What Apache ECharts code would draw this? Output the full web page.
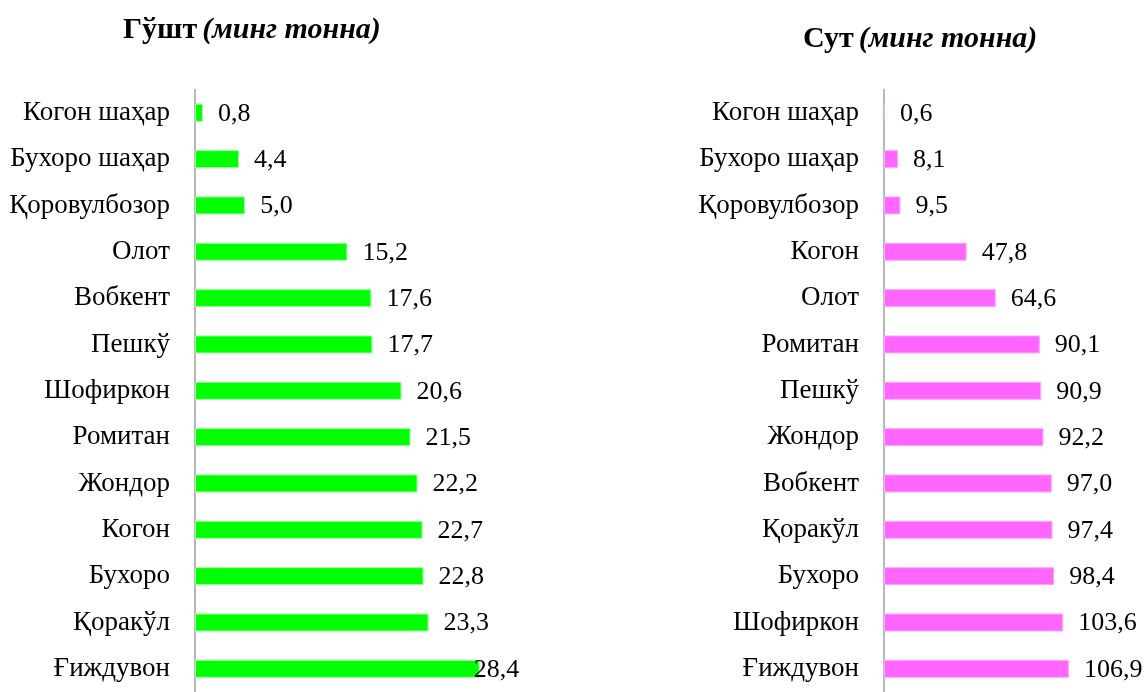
<!DOCTYPE html>
<html>
<head>
<meta charset="utf-8">
<script src="https://cdn.jsdelivr.net/npm/echarts@6/dist/echarts.min.js"></script>
<style>
html, body { margin: 0; padding: 0; background: #fff; }
#main { width: 1147px; height: 692px; }
</style>
</head>
<body>
<div id="main"></div>
<script>
// Гўшт (минг тонна)
var meatRegions = ['Когон шаҳар', 'Бухоро шаҳар', 'Қоровулбозор', 'Олот', 'Вобкент', 'Пешкў', 'Шофиркон', 'Ромитан', 'Жондор', 'Когон', 'Бухоро', 'Қоракўл', 'Ғиждувон'];
var meatValues = [0.8, 4.4, 5.0, 15.2, 17.6, 17.7, 20.6, 21.5, 22.2, 22.7, 22.8, 23.3, 28.4];
// Сут (минг тонна)
var milkRegions = ['Когон шаҳар', 'Бухоро шаҳар', 'Қоровулбозор', 'Когон', 'Олот', 'Ромитан', 'Пешкў', 'Жондор', 'Вобкент', 'Қоракўл', 'Бухоро', 'Шофиркон', 'Ғиждувон'];
var milkValues = [0.6, 8.1, 9.5, 47.8, 64.6, 90.1, 90.9, 92.2, 97.0, 97.4, 98.4, 103.6, 106.9];

var font = "'Liberation Serif', 'Times New Roman', serif";
var chart = echarts.init(document.getElementById('main'));

function fmt(p) {
	return p.value.toFixed(1).replace('.', ',');
}

var titleRich = {
	b : { fontFamily : font, fontSize : 30, fontWeight : 'bold', color : '#000' },
	i : { fontFamily : font, fontSize : 30, fontStyle : 'italic', color : '#000' }
};

// последний столбик мяса - подпись налезает на конец столбика
var meatData = meatValues.map(function(v, i) {
	if (i == meatValues.length - 1) {
		return { value : v, label : { offset : [ -21, 1 ] } };
	}
	return v;
});

var option = {
	animation : false,
	title : [ {
		text : '{b|Гўшт} {i|(минг тонна)}',
		left : 118,
		top : 10,
		textStyle : { rich : titleRich }
	}, {
		text : '{b|Сут} {i|(минг тонна)}',
		left : 798,
		top : 19,
		textStyle : { rich : titleRich }
	} ],
	grid : [ {
		left : 195,
		top : 89.6,
		width : 401,
		height : 608.8
	}, {
		left : 884,
		top : 89.6,
		width : 259.5,
		height : 608.8
	} ],
	xAxis : [ {
		gridIndex : 0,
		type : 'value',
		min : 0,
		max : 40,
		show : false
	}, {
		gridIndex : 1,
		type : 'value',
		min : 0,
		max : 150,
		show : false
	} ],
	yAxis : [ {
		gridIndex : 0,
		type : 'category',
		inverse : true,
		data : meatRegions,
		axisLine : { lineStyle : { color : '#a0a0a0', width : 1.5 } },
		axisTick : { show : false },
		axisLabel : { margin : 25, color : '#000', fontFamily : font, fontSize : 27 }
	}, {
		gridIndex : 1,
		type : 'category',
		inverse : true,
		data : milkRegions,
		axisLine : { lineStyle : { color : '#a0a0a0', width : 1.5 } },
		axisTick : { show : false },
		axisLabel : { margin : 25, color : '#000', fontFamily : font, fontSize : 27 }
	} ],
	series : [ {
		type : 'bar',
		xAxisIndex : 0,
		yAxisIndex : 0,
		data : meatData,
		barWidth : 18,
		itemStyle : { color : '#00ff00', borderColor : '#9dff9d', borderWidth : 1 },
		label : {
			show : true,
			position : 'right',
			distance : 15,
			formatter : fmt,
			color : '#000',
			fontFamily : font,
			fontSize : 26,
			offset : [ 0, 1 ]
		}
	}, {
		type : 'bar',
		xAxisIndex : 1,
		yAxisIndex : 1,
		data : milkValues,
		barWidth : 18,
		itemStyle : { color : '#ff66ff', borderColor : '#ffa8ff', borderWidth : 1 },
		label : {
			show : true,
			position : 'right',
			distance : 15,
			formatter : fmt,
			color : '#000',
			fontFamily : font,
			fontSize : 26,
			offset : [ 0, 1 ]
		}
	} ]
};
chart.setOption(option);
</script>
</body>
</html>
